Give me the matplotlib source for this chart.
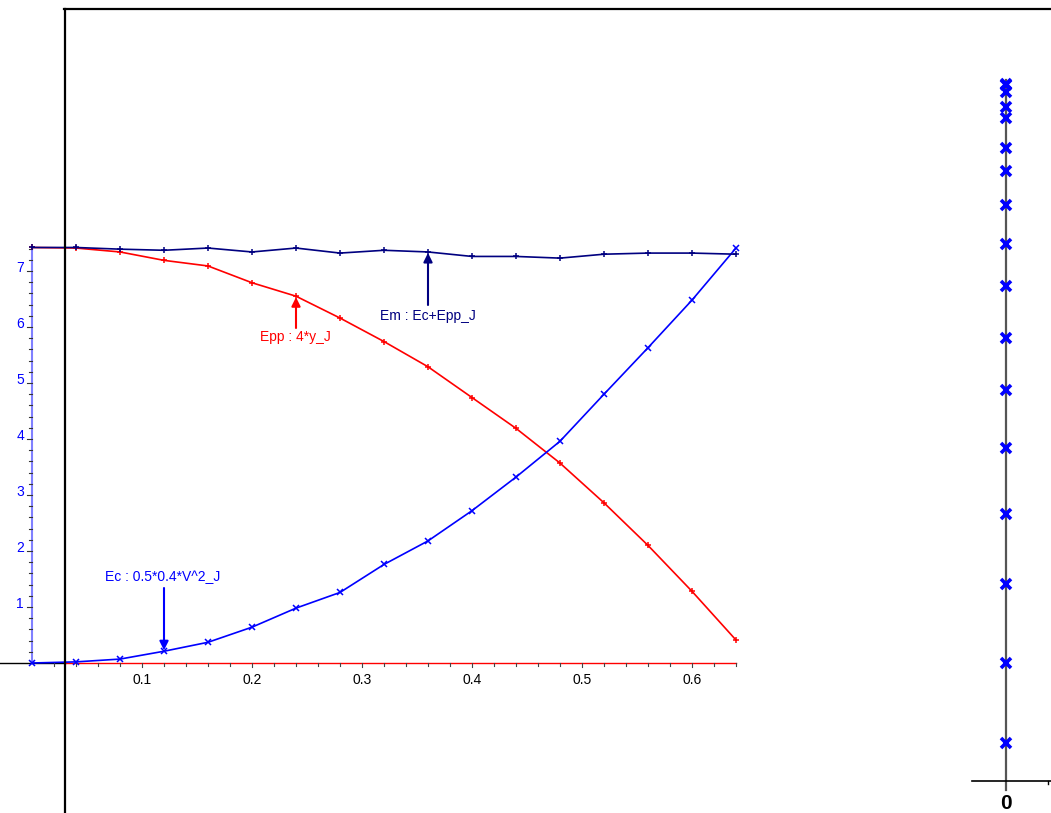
import matplotlib
matplotlib.use("Agg")
import matplotlib.pyplot as plt
import numpy as np

plt.rcParams['font.family'] = ['Liberation Sans', 'DejaVu Sans']

# ---- data ----
t = [0.00, 0.04, 0.08, 0.12, 0.16, 0.20, 0.24, 0.28, 0.32, 0.36, 0.40,
     0.44, 0.48, 0.52, 0.56, 0.60, 0.64]
Em = [7.42, 7.42, 7.39, 7.37, 7.41, 7.34, 7.41, 7.32, 7.37, 7.34, 7.26,
      7.26, 7.23, 7.30, 7.32, 7.32, 7.30]
Epp = [7.42, 7.41, 7.34, 7.19, 7.09, 6.79, 6.55, 6.16, 5.74, 5.29, 4.74,
       4.19, 3.57, 2.86, 2.10, 1.28, 0.41]
Ec = [0.00, 0.02, 0.07, 0.21, 0.37, 0.64, 0.98, 1.26, 1.76, 2.18, 2.72,
      3.32, 3.96, 4.80, 5.63, 6.48, 7.41]
ypos = [1.860, 1.856, 1.838, 1.797, 1.768, 1.689, 1.627, 1.536, 1.432,
        1.320, 1.181, 1.043, 0.887, 0.711, 0.525, 0.315, 0.102]
x_major = [0.1, 0.2, 0.3, 0.4, 0.5, 0.6]
x_labels = ['0.1', '0.2', '0.3', '0.4', '0.5', '0.6']
y_major = [1, 2, 3, 4, 5, 6, 7]
y_labels = ['1', '2', '3', '4', '5', '6', '7']
lab_em = 'Em : Ec+Epp_J'
lab_epp = 'Epp : 4*y_J'
lab_ec = 'Ec : 0.5*0.4*V^2_J'

W, H = 1051, 813
fig = plt.figure(figsize=(W / 100, H / 100), dpi=100)

# pixel mapping for main plot: px = 32 + 1100*t ; py = 663 - 56*v
X0, SX = 32.0, 1100.0
Y0, SY = 663.0, 56.0
ax = fig.add_axes([0, 0, 1, 1])
ax.set_xlim((0 - X0) / SX, (W - X0) / SX)
ax.set_ylim((Y0 - H) / SY, (Y0 - 0) / SY)
ax.axis('off')

navy = '#000080'
red = '#ff0000'
blue = '#0000ff'

px = 1.0 / SX  # one pixel in x data units
py = 1.0 / SY  # one pixel in y data units

# x axis line (black then red)
xa_end = 0.64
ax.plot([(0 - X0) / SX, (65 - X0) / SX], [0, 0], color='black', lw=1.0, zorder=1)
ax.plot([(65 - X0) / SX, xa_end], [0, 0], color=red, lw=1.0, zorder=1)
# x ticks
for k in range(1, 33):
    xv = k * 0.02
    major = (k % 5 == 0)
    ax.plot([xv, xv], [0, -(4 if major else 3) * py], color='#444444', lw=0.8, zorder=1)
for xv, lab in zip(x_major, x_labels):
    ax.text(xv, -17 * py, lab, ha='center', va='center', fontsize=10, color='black')

# y axis line (light blue)
ax.plot([0, 0], [0, max(Epp)], color='#8080ff', lw=1.5, zorder=1)
for k in range(1, 38):
    yv = k * 0.2
    if yv > max(Epp):
        break
    major = abs(yv - round(yv)) < 1e-6
    ax.plot([0, -(5 if major else 3) * px], [yv, yv], color='#333333', lw=0.8, zorder=1)
for yv, lab in zip(y_major, y_labels):
    ax.text(-8 * px, yv + 3 * py, lab, ha='right', va='center', fontsize=10, color=blue)

# series
ax.plot(t, Epp, color=red, lw=1.2, marker='+', ms=5, mew=1.1, zorder=3)
ax.plot(t, Ec, color=blue, lw=1.2, marker='x', ms=4, mew=1.1, zorder=3)
ax.plot(t, Em, color=navy, lw=1.2, marker='+', ms=5, mew=1.1, zorder=4)

# annotations
ap = dict(arrowstyle='-|>', mutation_scale=13, lw=1.5, shrinkA=0, shrinkB=0)
ax.annotate('', xy=(t[9], Em[9] - 1 * py), xytext=(t[9], (Y0 - 305) / SY),
            arrowprops=dict(ap, color=navy), zorder=5)
ax.text((380 - X0) / SX, (Y0 - 316) / SY, lab_em, color=navy, fontsize=10,
        ha='left', va='center')
ax.annotate('', xy=(t[6], Epp[6] - 1 * py), xytext=(t[6], (Y0 - 328) / SY),
            arrowprops=dict(ap, color=red), zorder=5)
ax.text((260 - X0) / SX, (Y0 - 337) / SY, lab_epp, color=red, fontsize=10,
        ha='left', va='center')
ax.annotate('', xy=(t[3], Ec[3] + 1 * py), xytext=(t[3], (Y0 - 588) / SY),
            arrowprops=dict(ap, color=blue), zorder=5)
ax.text((105 - X0) / SX, (Y0 - 577) / SY, lab_ec, color=blue, fontsize=10,
        ha='left', va='center')

# frame lines (pixel space)
deco = fig.add_axes([0, 0, 1, 1], facecolor='none')
deco.set_xlim(0, W)
deco.set_ylim(H, 0)
deco.axis('off')
deco.plot([65, 65], [9, H], color='black', lw=1.6)
deco.plot([64, W], [9, 9], color='black', lw=1.6)

# right panel: positions, pixel py = 781 - 375*y, px = 1006 + 100*x
RX0, RSX = 1006.0, 100.0
RY0, RSY = 781.0, 375.0
ax2 = fig.add_axes([0, 0, 1, 1], facecolor='none')
ax2.set_xlim((0 - RX0) / RSX, (W - RX0) / RSX)
ax2.set_ylim((RY0 - H) / RSY, RY0 / RSY)
ax2.axis('off')
ax2.plot([0, 0], [(RY0 - 790) / RSY, (RY0 - 80) / RSY], color='#555555', lw=1.6, zorder=1)
ax2.plot([(972 - RX0) / RSX, (W - RX0) / RSX], [0, 0], color='black', lw=1.2, zorder=1)
ax2.plot([(1048 - RX0) / RSX] * 2, [0, -3 / RSY], color='black', lw=1.0)
ax2.text(0, (RY0 - 803) / RSY, '0', ha='center', va='center', fontsize=15,
         fontweight='bold', color='black')
ax2.plot([0] * len(ypos), ypos, ls='none', marker='x', ms=7, mew=2.6, color=blue, zorder=3)

fig.savefig('out.png', dpi=100)
